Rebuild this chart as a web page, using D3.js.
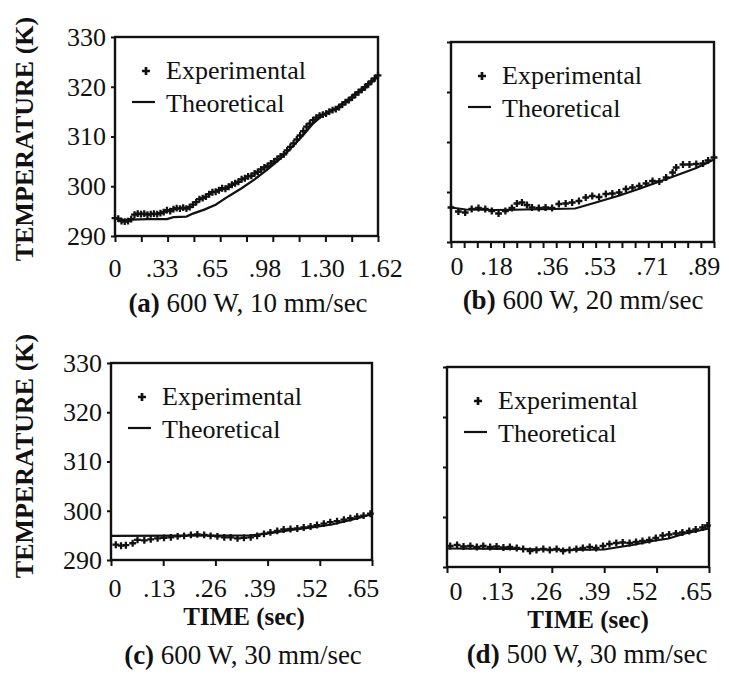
<!DOCTYPE html>
<html><head><meta charset="utf-8">
<script src="https://cdn.jsdelivr.net/npm/d3@7"></script>
<style>body{margin:0;background:#fff}svg{display:block}text{font-family:"Liberation Serif","Times New Roman",Times,serif;fill:#111}</style>
</head><body>
<svg id="chart" width="729" height="681"></svg>
<script>
// ---------- data ----------
const yTickValues = [290, 300, 310, 320, 330];
const yTickLabels = ["290", "300", "310", "320", "330"];
const yDomain = [290, 330];

const xLabelsA = ["0", ".33", ".65", ".98", "1.30", "1.62"];
const xLabelsB = ["0", ".18", ".36", ".53", ".71", ".89"];
const xLabelsC = ["0", ".13", ".26", ".39", ".52", ".65"];
const xLabelsD = ["0", ".13", ".26", ".39", ".52", ".65"];
const xMaxA = 1.62, xMaxB = 0.89, xMaxC = 0.65, xMaxD = 0.65;

const capPrefix = ["(a)", "(b)", "(c)", "(d)"];
const capText = [" 600 W, 10 mm/sec", " 600 W, 20 mm/sec", " 600 W, 30 mm/sec", " 500 W, 30 mm/sec"];
const legendLabels = ["Experimental", "Theoretical"];
const yTitle = "TEMPERATURE (K)";
const xTitle = "TIME (sec)";

// experimental points [time, temperature]
const expA = [[0.00,293.6],[0.02,293.5],[0.04,293.0],[0.06,292.9],[0.08,293.0],[0.10,293.4],[0.12,294.3],[0.14,294.5],[0.16,294.4],[0.18,294.5],[0.20,294.3],[0.22,294.4],[0.24,294.5],[0.26,294.4],[0.28,294.6],[0.30,294.8],[0.32,295.2],[0.34,295.0],[0.36,295.4],[0.38,295.6],[0.40,295.5],[0.42,295.7],[0.44,295.5],[0.46,295.8],[0.48,296.3],[0.50,296.8],[0.52,297.4],[0.54,297.6],[0.56,297.9],[0.58,298.4],[0.60,298.8],[0.62,298.9],[0.64,299.2],[0.66,299.6],[0.68,299.5],[0.70,299.9],[0.72,300.3],[0.74,300.6],[0.76,300.9],[0.78,301.4],[0.80,301.6],[0.82,302.0],[0.84,302.1],[0.86,302.6],[0.88,302.9],[0.90,303.4],[0.92,303.8],[0.94,304.1],[0.96,304.6],[0.98,305.0],[1.00,305.5],[1.02,306.0],[1.04,306.4],[1.06,307.2],[1.08,307.9],[1.10,308.6],[1.12,309.4],[1.14,310.2],[1.16,311.1],[1.18,312.0],[1.20,312.6],[1.22,313.3],[1.24,313.8],[1.26,314.2],[1.28,314.4],[1.30,314.6],[1.32,315.0],[1.34,315.3],[1.36,315.5],[1.38,315.9],[1.40,316.4],[1.42,316.9],[1.44,317.3],[1.46,317.8],[1.48,318.4],[1.50,318.9],[1.52,319.4],[1.54,319.9],[1.56,320.5],[1.58,321.1],[1.60,321.7],[1.62,322.3]];
const theoA = [[0,293.6],[0.05,293.2],[0.10,293.3],[0.20,293.4],[0.32,293.4],[0.36,293.8],[0.44,293.9],[0.48,294.5],[0.55,295.3],[0.62,296.3],[0.70,298.0],[0.78,299.6],[0.86,301.4],[0.94,303.4],[1.02,305.6],[1.10,308.2],[1.16,310.3],[1.22,312.6],[1.28,314.3],[1.34,315.3],[1.40,316.6],[1.46,318.0],[1.52,319.5],[1.58,321.1],[1.62,322.2]];

const expB = [[0,296.9],[0.025,296.1],[0.048,295.9],[0.07,296.6],[0.093,296.8],[0.116,296.6],[0.138,296.2],[0.161,295.7],[0.184,296.2],[0.206,296.8],[0.223,297.7],[0.24,297.9],[0.257,297.4],[0.274,296.9],[0.297,296.8],[0.32,296.9],[0.342,296.8],[0.365,297.6],[0.388,297.7],[0.41,297.9],[0.433,298.2],[0.456,298.9],[0.478,299.2],[0.501,299.0],[0.524,299.6],[0.546,299.7],[0.569,299.9],[0.592,300.6],[0.614,300.9],[0.637,301.2],[0.66,301.7],[0.682,302.2],[0.705,302.1],[0.728,302.9],[0.75,303.9],[0.762,304.9],[0.785,305.5],[0.807,305.5],[0.83,305.6],[0.853,305.7],[0.87,306.3],[0.89,306.9]];
const theoB = [[0,296.9],[0.05,296.5],[0.15,296.4],[0.25,296.5],[0.35,296.6],[0.42,296.7],[0.49,297.9],[0.57,299.3],[0.64,300.7],[0.72,302.4],[0.78,303.7],[0.83,304.8],[0.89,306.5]];

const expC = [[0.012,293.1],[0.025,292.9],[0.037,293.0],[0.054,293.4],[0.066,294.1],[0.083,294.0],[0.099,294.2],[0.116,294.4],[0.132,294.5],[0.149,294.6],[0.166,294.8],[0.182,294.9],[0.199,295.1],[0.215,295.2],[0.232,295.1],[0.248,294.9],[0.265,294.8],[0.282,294.6],[0.298,294.6],[0.315,294.4],[0.331,294.5],[0.348,294.6],[0.364,294.9],[0.381,295.3],[0.397,295.6],[0.414,295.9],[0.43,296.2],[0.447,296.3],[0.464,296.4],[0.48,296.6],[0.497,296.8],[0.513,297.1],[0.53,297.4],[0.546,297.7],[0.563,297.9],[0.58,298.2],[0.596,298.5],[0.613,298.8],[0.629,299.0],[0.646,299.4]];
const theoC = [[0,294.9],[0.35,295.0],[0.40,295.5],[0.45,296.1],[0.50,296.6],[0.55,297.2],[0.60,298.2],[0.65,299.3]];

const expD = [[0.008,294.2],[0.025,294.4],[0.041,294.1],[0.058,294.2],[0.074,294.0],[0.09,294.2],[0.107,294.0],[0.123,294.1],[0.14,293.9],[0.156,294.0],[0.173,293.8],[0.189,293.6],[0.206,293.2],[0.222,293.4],[0.239,293.6],[0.255,293.4],[0.272,293.6],[0.288,293.2],[0.304,293.4],[0.321,293.6],[0.337,293.8],[0.354,294.0],[0.37,293.8],[0.387,294.2],[0.403,294.6],[0.42,294.8],[0.436,294.9],[0.453,294.8],[0.469,295.0],[0.485,295.2],[0.502,295.4],[0.518,295.8],[0.535,296.3],[0.551,296.5],[0.568,296.7],[0.584,296.9],[0.601,297.2],[0.617,297.5],[0.634,297.9],[0.646,298.3]];
const theoD = [[0,293.7],[0.19,293.6],[0.30,293.4],[0.39,293.5],[0.42,293.9],[0.46,294.4],[0.51,295.2],[0.55,295.7],[0.59,296.7],[0.65,297.7]];

// ---------- layout ----------
const panels = [
  {box:{x0:115,x1:378,y0:37,y1:236}, exp:expA, theo:theoA, xMax:xMaxA, labels:xLabelsA, minor:10, yLabels:true, xTitle:false,
   lblY:277, capY:312, capX:248, lblRange:[115,380], nudge:[0,-6,-9,-9,-5,0], yTitleY:139},
  {box:{x0:451,x1:714,y0:42,y1:242}, exp:expB, theo:theoB, xMax:xMaxB, labels:xLabelsB, minor:20, yLabels:false, xTitle:false,
   lblY:275, capY:309, capX:583, lblRange:[451,714], nudge:[6,-7,-4,-9,-9,-10]},
  {box:{x0:111,x1:372,y0:363,y1:560}, exp:expC, theo:theoC, xMax:xMaxC, labels:xLabelsC, minor:5, yLabels:true, xTitle:true,
   lblY:597, titleY:625, capY:664, capX:243, lblRange:[111,372], nudge:[4,-4,-5,-8,-8,-9], yTitleY:456},
  {box:{x0:447,x1:709,y0:367,y1:567}, exp:expD, theo:theoD, xMax:xMaxD, labels:xLabelsD, minor:5, yLabels:false, xTitle:true,
   lblY:600, titleY:628, capY:663, capX:587, lblRange:[447,709], nudge:[9,-2,-6,-10,-15,-13]}
];

const svg = d3.select("#chart");
const SERIF = '"Liberation Serif","Times New Roman",Times,serif';
const FS = 26;

panels.forEach((p, i) => {
  const b = p.box;
  const x = d3.scaleLinear().domain([0, p.xMax]).range([b.x0, b.x1]);
  const xl = d3.scaleLinear().domain([0, p.xMax]).range(p.lblRange);
  const y = d3.scaleLinear().domain(yDomain).range([b.y1, b.y0]);
  const g = svg.append("g");

  // y axis ticks
  const yAxis = d3.axisLeft(y).tickValues(yTickValues).tickSize(4)
    .tickFormat((d, k) => p.yLabels ? yTickLabels[k] : "").tickPadding(5);
  const ya = g.append("g").attr("transform", `translate(${b.x0},0)`).call(yAxis);
  ya.attr("font-family", SERIF);
  ya.select(".domain").remove();
  ya.selectAll("line").attr("stroke", "#111").attr("stroke-width", 2);
  ya.selectAll("text").style("font-size", FS + "px").attr("fill", "#111");

  // x axis ticks (minor) and labels
  const minorVals = d3.range(p.minor + 1).map(k => k * p.xMax / p.minor);
  const xa = g.append("g").attr("transform", `translate(0,${b.y1})`)
    .call(d3.axisBottom(x).tickValues(minorVals).tickSize(6).tickFormat(""));
  xa.select(".domain").remove();
  xa.selectAll("line").attr("stroke", "#111").attr("stroke-width", 2);
  const majorVals = d3.range(6).map(k => k * p.xMax / 5);
  g.selectAll(".xl").data(majorVals).join("text")
    .attr("x", (d, k) => xl(d) + p.nudge[k]).attr("y", p.lblY).attr("text-anchor", "middle")
    .attr("font-family", SERIF).style("font-size", FS + "px").text((d, k) => p.labels[k]);

  // frame
  g.append("rect").attr("x", b.x0).attr("y", b.y0)
    .attr("width", b.x1 - b.x0).attr("height", b.y1 - b.y0)
    .attr("fill", "none").attr("stroke", "#111").attr("stroke-width", 2.4);

  // theoretical line
  g.append("path").datum(p.theo)
    .attr("d", d3.line().x(d => x(d[0])).y(d => y(d[1])))
    .attr("fill", "none").attr("stroke", "#111").attr("stroke-width", 2.2);

  // experimental "+" markers
  const cross = d3.symbol().type(d3.symbolCross).size(26);
  g.selectAll(".pt").data(p.exp).join("path")
    .attr("transform", d => `translate(${x(d[0])},${y(d[1])})`)
    .attr("d", cross).attr("fill", "#111");

  // legend
  g.append("path").attr("transform", `translate(${b.x0 + 31},${b.y0 + 34})`)
    .attr("d", d3.symbol().type(d3.symbolCross).size(36)).attr("fill", "#111");
  g.append("text").attr("x", b.x0 + 51).attr("y", b.y0 + 42)
    .attr("font-family", SERIF).style("font-size", FS + "px").text(legendLabels[0]);
  g.append("line").attr("x1", b.x0 + 17).attr("x2", b.x0 + 40)
    .attr("y1", b.y0 + 65).attr("y2", b.y0 + 65).attr("stroke", "#111").attr("stroke-width", 2.2);
  g.append("text").attr("x", b.x0 + 51).attr("y", b.y0 + 75)
    .attr("font-family", SERIF).style("font-size", FS + "px").text(legendLabels[1]);

  // x title
  if (p.xTitle) {
    g.append("text").attr("x", p.capX + 1).attr("y", p.titleY)
      .attr("text-anchor", "middle").attr("font-family", SERIF)
      .style("font-size", "25px").style("font-weight", "bold").text(xTitle);
  }
  // caption
  const cap = g.append("text").attr("x", p.capX).attr("y", p.capY)
    .attr("text-anchor", "middle").attr("font-family", SERIF).style("font-size", "27px");
  cap.append("tspan").style("font-weight", "bold").text(capPrefix[i]);
  cap.append("tspan").text(capText[i]);

  // y title
  if (p.yLabels) {
    svg.append("text")
      .attr("transform", `translate(33,${p.yTitleY}) rotate(-90)`)
      .attr("text-anchor", "middle").attr("font-family", SERIF)
      .style("font-size", "26px").style("font-weight", "bold")
      .text(yTitle);
  }
});
</script>
</body></html>
